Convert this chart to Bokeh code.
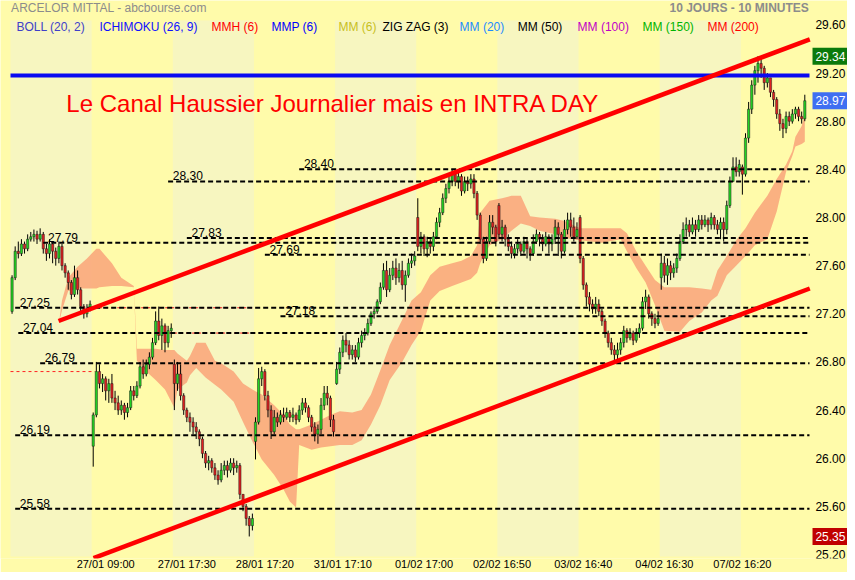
from bokeh.plotting import figure
from bokeh.models import Range1d, FixedTicker, ColumnDataSource
from bokeh.core.properties import value
from bokeh.embed import file_html
from bokeh.resources import INLINE

# ---------------- data (20-minute candles, 26 per session) ----------------
day_names = ["26/01", "27/01", "28/01", "31/01", "01/02", "02/02", "03/02", "04/02", "07/02", "08/02"]
day_open = [27.22, 26.10, 26.78, 26.14, 26.62, 28.00, 28.10, 28.00, 27.50, 28.42]

c_2601 = [27.50, 27.72, 27.70, 27.78, 27.74, 27.82, 27.84, 27.86, 27.82, 27.86, 27.74, 27.70, 27.78, 27.72, 27.66, 27.76, 27.60, 27.54, 27.46, 27.36, 27.50, 27.40, 27.26, 27.20, 27.24, 27.28]
h_2601 = [27.52, 27.76, 27.80, 27.82, 27.80, 27.86, 27.88, 27.90, 27.89, 27.91, 27.88, 27.78, 27.82, 27.80, 27.75, 27.80, 27.78, 27.62, 27.56, 27.48, 27.60, 27.56, 27.42, 27.28, 27.28, 27.31]
l_2601 = [27.20, 27.48, 27.66, 27.68, 27.70, 27.72, 27.80, 27.80, 27.78, 27.80, 27.70, 27.64, 27.66, 27.62, 27.60, 27.62, 27.56, 27.50, 27.40, 27.32, 27.34, 27.36, 27.22, 27.16, 27.17, 27.22]

c_2701 = [26.36, 26.72, 26.62, 26.66, 26.56, 26.62, 26.50, 26.46, 26.40, 26.44, 26.38, 26.42, 26.56, 26.52, 26.60, 26.76, 26.70, 26.78, 26.84, 26.96, 27.14, 27.02, 27.10, 26.96, 27.06, 27.08]
h_2701 = [26.38, 26.80, 26.78, 26.70, 26.68, 26.66, 26.70, 26.56, 26.52, 26.48, 26.46, 26.46, 26.60, 26.60, 26.64, 26.80, 26.82, 26.82, 26.88, 27.00, 27.22, 27.26, 27.16, 27.12, 27.10, 27.12]
l_2701 = [25.93, 26.34, 26.58, 26.55, 26.48, 26.46, 26.46, 26.40, 26.36, 26.36, 26.32, 26.34, 26.40, 26.48, 26.50, 26.58, 26.66, 26.68, 26.74, 26.82, 26.94, 26.98, 26.90, 26.88, 26.92, 27.00]

c_2801 = [26.62, 26.70, 26.52, 26.40, 26.34, 26.30, 26.26, 26.22, 26.16, 26.04, 25.96, 25.98, 25.92, 25.86, 25.82, 25.90, 25.94, 25.90, 25.96, 25.92, 25.94, 25.70, 25.60, 25.50, 25.44, 25.50]
h_2801 = [26.82, 26.80, 26.78, 26.54, 26.42, 26.38, 26.34, 26.30, 26.24, 26.18, 26.06, 26.02, 26.00, 25.96, 25.90, 25.96, 25.98, 25.98, 26.00, 26.00, 25.98, 25.96, 25.70, 25.62, 25.52, 25.54]
l_2801 = [26.40, 26.56, 26.48, 26.36, 26.30, 26.22, 26.20, 26.16, 26.10, 26.00, 25.92, 25.90, 25.88, 25.82, 25.78, 25.80, 25.86, 25.84, 25.88, 25.86, 25.88, 25.66, 25.56, 25.44, 25.35, 25.40]

c_3101 = [26.30, 26.66, 26.72, 26.52, 26.40, 26.22, 26.34, 26.30, 26.36, 26.34, 26.38, 26.34, 26.36, 26.32, 26.40, 26.46, 26.42, 26.34, 26.26, 26.20, 26.24, 26.44, 26.54, 26.50, 26.32, 26.22]
h_3101 = [26.34, 26.75, 26.76, 26.74, 26.56, 26.44, 26.40, 26.38, 26.40, 26.42, 26.42, 26.40, 26.42, 26.38, 26.44, 26.50, 26.50, 26.44, 26.36, 26.30, 26.28, 26.50, 26.60, 26.60, 26.52, 26.36]
l_3101 = [25.99, 26.28, 26.60, 26.48, 26.34, 26.16, 26.20, 26.26, 26.28, 26.30, 26.32, 26.30, 26.30, 26.28, 26.30, 26.36, 26.38, 26.30, 26.22, 26.14, 26.12, 26.20, 26.40, 26.44, 26.26, 26.18]

c_0102 = [26.74, 26.88, 26.98, 26.94, 26.86, 26.90, 26.84, 26.96, 27.02, 27.04, 27.12, 27.20, 27.22, 27.30, 27.42, 27.56, 27.40, 27.52, 27.58, 27.50, 27.56, 27.44, 27.52, 27.62, 27.64, 27.68]
h_0102 = [26.80, 26.92, 27.02, 27.04, 26.98, 26.94, 26.94, 27.00, 27.06, 27.08, 27.16, 27.22, 27.26, 27.32, 27.46, 27.62, 27.64, 27.58, 27.64, 27.66, 27.62, 27.64, 27.56, 27.66, 27.70, 27.72]
l_0102 = [26.61, 26.70, 26.84, 26.88, 26.82, 26.82, 26.80, 26.82, 26.92, 26.98, 27.02, 27.10, 27.16, 27.20, 27.28, 27.40, 27.34, 27.38, 27.48, 27.44, 27.46, 27.40, 27.30, 27.50, 27.58, 27.60]

c_0202 = [27.76, 27.84, 27.74, 27.80, 27.76, 27.84, 27.96, 28.04, 28.16, 28.24, 28.30, 28.36, 28.30, 28.34, 28.22, 28.30, 28.28, 28.32, 28.20, 28.02, 27.82, 27.66, 27.80, 27.96, 27.92, 27.80]
h_0202 = [28.16, 27.88, 27.86, 27.84, 27.82, 27.88, 28.00, 28.08, 28.20, 28.28, 28.34, 28.40, 28.40, 28.38, 28.36, 28.34, 28.34, 28.36, 28.36, 28.22, 28.04, 27.84, 27.84, 28.02, 28.02, 27.94]
l_0202 = [27.72, 27.70, 27.68, 27.67, 27.70, 27.72, 27.82, 27.92, 28.02, 28.12, 28.20, 28.26, 28.26, 28.24, 28.18, 28.20, 28.22, 28.24, 28.16, 27.98, 27.78, 27.62, 27.64, 27.78, 27.86, 27.76]

c_0302 = [27.86, 27.92, 27.82, 27.76, 27.70, 27.74, 27.78, 27.72, 27.80, 27.74, 27.70, 27.80, 27.86, 27.82, 27.78, 27.84, 27.78, 27.82, 27.92, 27.86, 27.72, 27.90, 27.98, 27.92, 27.84, 27.90]
h_0302 = [28.12, 27.98, 27.94, 27.86, 27.80, 27.78, 27.82, 27.80, 27.84, 27.82, 27.76, 27.86, 27.90, 27.88, 27.86, 27.88, 27.86, 27.86, 27.98, 27.96, 27.88, 27.98, 28.04, 28.04, 28.00, 27.96]
l_0302 = [27.82, 27.80, 27.76, 27.72, 27.66, 27.66, 27.70, 27.68, 27.70, 27.66, 27.64, 27.68, 27.78, 27.76, 27.72, 27.76, 27.70, 27.72, 27.78, 27.68, 27.66, 27.70, 27.86, 27.84, 27.80, 27.82]

c_0402 = [27.66, 27.44, 27.34, 27.28, 27.24, 27.28, 27.22, 27.14, 27.04, 26.96, 26.90, 26.86, 26.90, 26.96, 27.06, 27.00, 27.04, 26.98, 27.04, 27.08, 27.30, 27.34, 27.20, 27.16, 27.12, 27.16]
h_0402 = [28.02, 27.68, 27.46, 27.38, 27.32, 27.34, 27.32, 27.24, 27.16, 27.06, 27.00, 26.94, 26.96, 27.00, 27.10, 27.08, 27.08, 27.06, 27.08, 27.12, 27.34, 27.40, 27.36, 27.22, 27.20, 27.22]
l_0402 = [27.62, 27.40, 27.26, 27.22, 27.20, 27.20, 27.18, 27.10, 27.00, 26.92, 26.86, 26.81, 26.82, 26.86, 26.92, 26.96, 26.98, 26.94, 26.96, 27.00, 27.06, 27.24, 27.16, 27.10, 27.08, 27.10]

c_0702 = [27.62, 27.52, 27.60, 27.54, 27.58, 27.66, 27.80, 27.90, 27.94, 27.88, 27.94, 27.90, 27.98, 27.94, 27.98, 27.94, 28.00, 27.94, 27.90, 27.96, 27.90, 28.10, 28.30, 28.42, 28.38, 28.44]
h_0702 = [27.70, 27.68, 27.66, 27.64, 27.62, 27.70, 27.86, 27.96, 28.00, 27.98, 28.00, 27.98, 28.02, 28.02, 28.02, 28.00, 28.04, 28.02, 27.98, 28.00, 28.00, 28.14, 28.34, 28.50, 28.50, 28.48]
l_0702 = [27.40, 27.46, 27.44, 27.48, 27.50, 27.54, 27.64, 27.78, 27.84, 27.84, 27.86, 27.84, 27.88, 27.90, 27.92, 27.88, 27.90, 27.90, 27.86, 27.82, 27.80, 27.86, 28.08, 28.30, 28.34, 28.34]

c_0802 = [28.36, 28.66, 28.90, 29.10, 29.22, 29.28, 29.24, 29.12, 29.16, 29.04, 28.98, 28.86, 28.78, 28.74, 28.84, 28.80, 28.86, 28.90, 28.84, 28.82, 28.97]
h_0802 = [28.44, 28.70, 28.96, 29.14, 29.26, 29.34, 29.32, 29.26, 29.20, 29.16, 29.06, 29.00, 28.90, 28.82, 28.88, 28.88, 28.90, 28.92, 28.92, 28.88, 29.02]
l_0802 = [28.19, 28.34, 28.62, 28.86, 29.02, 29.12, 29.16, 29.06, 29.08, 29.00, 28.92, 28.82, 28.72, 28.66, 28.70, 28.76, 28.78, 28.82, 28.80, 28.78, 28.80]

closes = [c_2601, c_2701, c_2801, c_3101, c_0102, c_0202, c_0302, c_0402, c_0702, c_0802]
highs = [h_2601, h_2701, h_2801, h_3101, h_0102, h_0202, h_0302, h_0402, h_0702, h_0802]
lows = [l_2601, l_2701, l_2801, l_3101, l_0102, l_0202, l_0302, l_0402, l_0702, l_0802]

# Ichimoku cloud (bar index, upper span, lower span)
cloud_idx = [15, 16, 18, 21, 24, 27, 28, 32, 35, 39, 40, 43, 46, 49, 52, 53, 56, 57, 59, 62, 65, 67, 71, 74, 77, 80, 84, 87, 89, 91, 92, 96, 99, 102, 105, 109, 112, 115, 118, 121, 125, 128, 131, 134, 137, 141, 144, 147, 149, 150, 153, 157, 160, 163, 166, 169, 174, 177, 182, 189, 195, 197, 200, 203, 206, 209, 214, 217, 221, 224, 226, 229, 232, 235, 238, 242, 245, 248, 250, 251, 253, 254]
cloud_top = [27.12, 27.31, 27.50, 27.59, 27.66, 27.74, 27.74, 27.62, 27.50, 27.43, 26.91, 26.91, 26.91, 26.90, 26.90, 26.87, 26.81, 26.85, 26.96, 26.96, 26.81, 26.79, 26.72, 26.62, 26.57, 26.53, 26.44, 26.36, 26.28, 26.24, 26.24, 26.28, 26.32, 26.36, 26.39, 26.38, 26.40, 26.53, 26.73, 26.94, 27.15, 27.31, 27.38, 27.52, 27.59, 27.62, 27.64, 27.68, 27.77, 28.04, 28.14, 28.16, 28.18, 28.18, 28.01, 28.00, 27.99, 27.97, 27.91, 27.91, 27.91, 27.87, 27.72, 27.60, 27.48, 27.42, 27.42, 27.42, 27.41, 27.40, 27.56, 27.68, 27.81, 27.91, 28.04, 28.18, 28.32, 28.44, 28.55, 28.67, 28.76, 28.86]
cloud_bot = [27.12, 27.23, 27.39, 27.41, 27.41, 27.41, 27.42, 27.43, 27.43, 27.42, 26.81, 26.72, 26.65, 26.57, 26.42, 26.57, 26.63, 26.69, 26.75, 26.67, 26.61, 26.57, 26.47, 26.30, 26.14, 25.99, 25.86, 25.74, 25.64, 25.59, 26.11, 26.07, 26.09, 26.10, 26.11, 26.11, 26.15, 26.28, 26.44, 26.65, 26.80, 26.94, 27.06, 27.31, 27.39, 27.43, 27.46, 27.49, 27.54, 27.62, 27.77, 27.82, 27.89, 27.95, 27.93, 27.89, 27.86, 27.83, 27.81, 27.79, 27.82, 27.72, 27.58, 27.46, 27.27, 27.06, 27.05, 27.14, 27.21, 27.31, 27.35, 27.52, 27.60, 27.68, 27.77, 27.82, 28.05, 28.38, 28.51, 28.59, 28.61, 28.63]

# support / resistance levels (price, first bar)
levels = [28.40, 28.30, 27.83, 27.79, 27.69, 27.25, 27.18, 27.04, 26.79, 26.19, 25.58]
level_start = [92, 50, 56, 10, 81, 1, 86, 2, 9, 1, 1]
gap_levels = [26.72, 27.25, 27.04]
gap_from = [-0.5, 26, 50]
gap_to = [26.5, 78, 78]
resistance = 29.18
channel_up_x = [14.9, 255.6]
channel_up_y = [27.14, 29.48]
channel_dn_x = [26.1, 255.6]
channel_dn_y = [25.17, 27.41]

y_ticks = [25.20, 25.60, 26.00, 26.40, 26.80, 27.20, 27.60, 28.00, 28.40, 28.80, 29.20, 29.60]
x_tick_pos = [30, 56, 81, 106, 132, 157, 183, 209, 234]
x_tick_labels = ["27/01 09:00", "27/01 17:30", "28/01 17:20", "31/01 17:10", "01/02 17:00",
                 "02/02 16:50", "03/02 16:40", "04/02 16:30", "07/02 16:20"]

legend_items = ["BOLL (20, 2)", "ICHIMOKU (26, 9)", "MMH (6)", "MMP (6)", "MM (6)", "ZIG ZAG (3)",
                "MM (20)", "MM (50)", "MM (100)", "MM (150)", "MM (200)"]
legend_colors = ["#4040C8", "#1010FF", "#FF0000", "#0000FF", "#C8C020", "#000000",
                 "#1E8CFF", "#000000", "#C000C8", "#00B400", "#FF0000"]
legend_x = [1.4, 28.0, 63.9, 83.1, 104.6, 118.7, 143.4, 162.0, 181.2, 202.0, 222.8]

last_price, high_price, low_price = 28.97, 29.34, 25.35

# ---------------- build candles ----------------
xs, o, h, l, c = [], [], [], [], []
i = 0
for op, cs, hs, ls in zip(day_open, closes, highs, lows):
    prev = op
    for cc, hh, ll in zip(cs, hs, ls):
        xs.append(i)
        o.append(prev)
        c.append(cc)
        h.append(max(hh, prev, cc))
        l.append(min(ll, prev, cc))
        prev = cc
        i += 1
src = ColumnDataSource(dict(
    x=xs, o=o, c=c, h=h, l=l,
    top=[max(a, b) for a, b in zip(o, c)],
    bot=[min(a, b) for a, b in zip(o, c)],
    col=["#22D422" if cc >= oo else "#E02020" for oo, cc in zip(o, c)],
))

BG = "#FFFBAA"
BAND = "#F7F6C0"
FONT = "Liberation Sans"
X_LO, X_HI = -3.704, 267.68       # frame spans the whole width; bars end at 255.5
Y_TOP, Y_BOT = 29.8028, 25.167
BAND_TOP, BAND_BOT = 29.637, 25.184
LAST_BAR = 255.5
AXIS_X = 257.4                     # where the price scale labels sit

p = figure(width=847, height=572, x_range=Range1d(X_LO, X_HI), y_range=Range1d(Y_BOT, Y_TOP),
           output_backend="svg", toolbar_location=None, y_axis_location=None,
           min_border_left=0, min_border_right=0, min_border_top=0, min_border_bottom=12)
p.background_fill_color = BG
p.border_fill_color = BG
p.outline_line_color = None
p.grid.visible = False

# x axis (time)
p.xaxis.ticker = FixedTicker(ticks=x_tick_pos)
p.xaxis.major_label_overrides = {pos: lab for pos, lab in zip(x_tick_pos, x_tick_labels)}
p.xaxis.axis_line_color = None
p.xaxis.major_tick_line_color = None
p.xaxis.minor_tick_line_color = None
p.xaxis.major_tick_out = 0
p.xaxis.major_tick_in = 0
p.xaxis.minor_tick_out = 0
p.xaxis.major_label_text_font = FONT
p.xaxis.major_label_text_font_size = "11px"
p.xaxis.major_label_text_color = "#000000"
p.xaxis.major_label_standoff = -1

# day bands
band_days = [d for d in range(len(day_names)) if d % 2 == 0]
p.quad(left=[26 * d - 0.5 for d in band_days], right=[26 * d + 25.5 for d in band_days],
       bottom=BAND_BOT, top=BAND_TOP, fill_color=BAND, line_color=None)

# ichimoku cloud
p.varea(x=cloud_idx, y1=cloud_bot, y2=cloud_top, fill_color="#F9A97C", fill_alpha=0.9)

# thin red gap lines
p.segment(x0=gap_from, y0=gap_levels, x1=gap_to, y1=gap_levels, line_color="#FF2020",
          line_width=1, line_dash="3 3")

# candles
p.segment(x0="x", y0="h", x1="x", y1="l", source=src, line_color="#000000", line_width=1)
p.vbar(x="x", width=0.72, top="top", bottom="bot", source=src, fill_color="col",
       line_color="#1A1A1A", line_width=0.5)

# dashed levels
p.segment(x0=level_start, y0=levels, x1=[LAST_BAR] * len(levels), y1=levels,
          line_color="#000000", line_width=2, line_dash="5 3")
p.text(x=[s + 1.5 for s in level_start], y=[v + 0.008 for v in levels],
       text=["%.2f" % v for v in levels], text_font=value(FONT), text_font_size=value("12px"),
       text_color="#000000", text_baseline="bottom", text_align="left")

# resistance and channel
p.segment(x0=[-0.5], y0=[resistance], x1=[LAST_BAR], y1=[resistance], line_color="#0A0AF0", line_width=4)
p.line(channel_up_x, channel_up_y, line_color="#FF0000", line_width=4.5)
p.line(channel_dn_x, channel_dn_y, line_color="#FF0000", line_width=4.5)

# price scale (right)
p.text(x=[AXIS_X] * len(y_ticks), y=y_ticks, text=["%.2f" % v for v in y_ticks],
       text_font=value(FONT), text_font_size=value("12px"), text_color="#000000",
       text_baseline="middle", text_align="left")
box_vals = [high_price, last_price, low_price]
box_cols = ["#0B7A0B", "#3F6FF2", "#C00000"]
p.rect(x=[263.2] * 3, y=box_vals, width=42, height=17, width_units="screen", height_units="screen",
       fill_color=box_cols, line_color=None)
p.text(x=[AXIS_X] * 3, y=box_vals, text=["%.2f" % v for v in box_vals], text_font=value(FONT),
       text_font_size=value("12px"), text_color="#FFFFFF", text_baseline="middle", text_align="left")

# texts
p.text(x=[-0.3], y=[29.737], text=["ARCELOR MITTAL - abcbourse.com"], text_font=value(FONT),
       text_font_size=value("12px"), text_color="#8C8C8C", text_baseline="middle", text_align="left")
p.text(x=[255.3], y=[29.737], text=["10 JOURS - 10 MINUTES"], text_font=value(FONT),
       text_font_size=value("12px"), text_font_style="bold", text_color="#8C8C8C",
       text_baseline="middle", text_align="right")
p.text(x=legend_x, y=[29.579] * len(legend_x), text=legend_items, text_color=legend_colors,
       text_font=value(FONT), text_font_size=value("12px"), text_baseline="middle", text_align="left")
p.text(x=[17.4], y=[28.95], text=["Le Canal Haussier Journalier mais en INTRA DAY"],
       text_font=value(FONT), text_font_size=value("24px"), text_color="#FF0000",
       text_baseline="middle", text_align="left")

open("out.html", "w").write(file_html(p, INLINE))
